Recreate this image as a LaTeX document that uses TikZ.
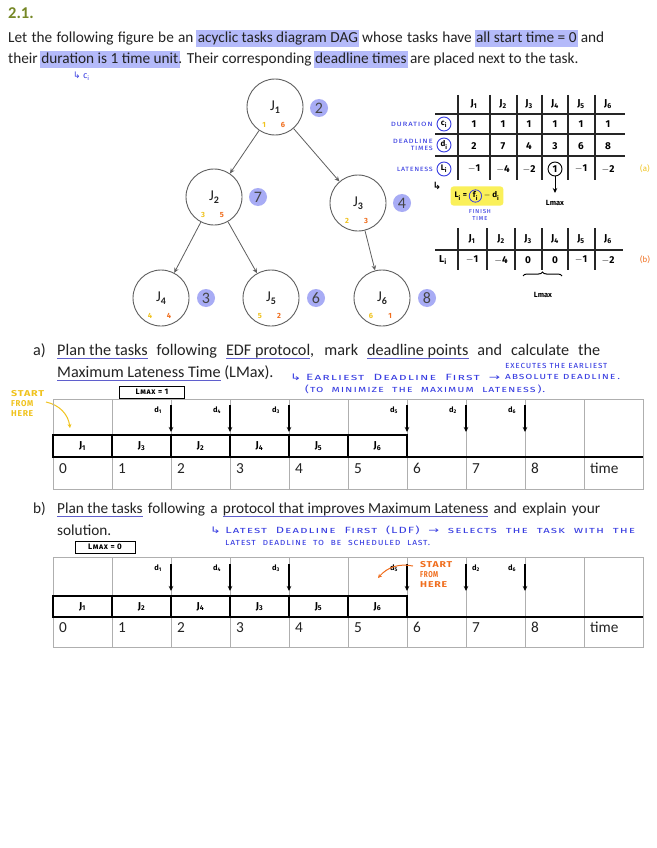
\documentclass[tikz,border=0pt]{standalone}
\usepackage{fontspec}
\setmainfont{Carlito}
\newfontfamily\hand{Fira Sans}
\newfontfamily\handsc[Letters=SmallCaps,LetterSpace=8]{Fira Sans}
\newfontfamily\dejavu{DejaVu Sans}
\usetikzlibrary{arrows.meta,decorations.pathreplacing}
\definecolor{titlec}{RGB}{118,136,38}
\definecolor{hlc}{RGB}{180,186,250}
\definecolor{ulc}{RGB}{95,95,205}
\definecolor{hb}{RGB}{55,60,225}
\definecolor{hy}{RGB}{240,195,30}
\definecolor{hyl}{RGB}{250,240,90}
\definecolor{ho}{RGB}{240,110,30}
\definecolor{gridc}{RGB}{175,175,175}
\definecolor{numbg}{RGB}{168,172,245}
\definecolor{txt}{RGB}{35,35,35}
\definecolor{nodec}{RGB}{95,95,95}
\newcommand\hlw[1]{\setbox0\hbox{#1}\rlap{\hspace{-1.5pt}\textcolor{hlc}{\rule[-4.5pt]{\dimexpr\wd0+3pt\relax}{17pt}}}\box0\relax}
\newcommand\ulw[1]{\setbox0\hbox{#1}\rlap{\textcolor{ulc}{\rule[-3.8pt]{\wd0}{0.9pt}}}\box0\relax}
\newcommand\Jn[1]{J\raisebox{-3.2pt}{\fontsize{10}{10}\selectfont\bfseries #1}}
\newcommand\hj[1]{J\textsubscript{#1}}
\newcommand\wfit[2]{\resizebox{#1}{\height}{#2}}
\begin{document}
\begin{tikzpicture}[x=1pt,y=-1pt,every node/.style={inner sep=0pt}]
\tikzset{
 body/.style={anchor=base west, font=\fontsize{15.3}{18}\selectfont, text=txt},
 bodya/.style={anchor=base west, font=\fontsize{16.2}{18}\selectfont, text=txt},
 hw/.style={anchor=base west, font=\handsc\fontsize{9}{9}\selectfont, text=hb},
 task/.style={circle, draw=nodec, line width=0.9pt, minimum size=56pt, font=\fontsize{15}{15}\selectfont, text=txt},
 tag/.style={circle, fill=numbg, minimum size=18pt, font=\fontsize{16}{16}\selectfont, text=txt!85},
 ord/.style={font=\hand\bfseries\fontsize{7.5}{7.5}\selectfont},
 edge/.style={-{Stealth[length=5pt,width=4.5pt]}, line width=0.8pt, draw=nodec},
 tl/.style={line width=1.1pt, draw=black!85},
 tv/.style={font=\hand\bfseries\fontsize{10}{10}\selectfont},
 gridl/.style={draw=gridc, line width=0.8pt},
 tbox/.style={draw=black, line width=1.8pt},
 dline/.style={-{Stealth[length=5pt,width=4.5pt]}, line width=1.2pt},
 dlab/.style={font=\hand\bfseries\fontsize{7.5}{7.5}\selectfont},
 num/.style={anchor=base west, font=\fontsize{15.3}{15}\selectfont, text=txt},
 hjs/.style={font=\hand\bfseries\fontsize{10}{10}\selectfont},
 lbox/.style={draw=black, line width=1pt, inner xsep=2pt, inner ysep=1.5pt, font=\handsc\bfseries\fontsize{8}{8}\selectfont},
 rlab/.style={font=\handsc\fontsize{7.5}{6.5}\selectfont, text=hb, anchor=east, align=right},
 start/.style={font=\handsc\bfseries\fontsize{8.5}{10}\selectfont, align=left, anchor=north west},
 lmx/.style={font=\hand\bfseries\fontsize{7.5}{8}\selectfont},
}
\fill[white] (0,0) rectangle (656,848);
\useasboundingbox (0,0) rectangle (656,848);

% ---- heading and intro
\node[anchor=base west, font=\bfseries\fontsize{16.5}{18}\selectfont, text=titlec] (title) at (8,19) {2.1.};
\node[body] (l1) at (8,43) {\makebox[596pt][s]{Let the following figure be an \hlw{acyclic tasks diagram DAG} whose tasks have \hlw{all start time = 0} and}};
\node[body] (l2) at (8,64) {their \hlw{duration is 1 time unit}. Their corresponding \hlw{deadline times} are placed next to the task.};
\node[hw, font=\hand\fontsize{9}{9}\selectfont] (ci) at (73,79) {{\dejavu ↳} c\textsubscript{i}};

% ---- DAG
\node[task] (J1) at (275,107) {\Jn{1}};
\node[task] (J2) at (214,197) {\Jn{2}};
\node[task] (J3) at (358,203) {\Jn{3}};
\node[task] (J4) at (161,298) {\Jn{4}};
\node[task] (J5) at (271,298) {\Jn{5}};
\node[task] (J6) at (382,298) {\Jn{6}};
\node[tag] (t1) at (319,108) {2};
\node[tag] (t2) at (258,197) {7};
\node[tag] (t3) at (402,203) {4};
\node[tag] (t4) at (206,298) {3};
\node[tag] (t5) at (316,298) {6};
\node[tag] (t6) at (427,298) {8};
\foreach \n/\a/\b in {1/1/6,2/3/5,3/2/3,4/4/4,5/5/2,6/6/1}{
  \node[ord, text=hy] (ya\n) at ([shift={(-11,18)}]J\n.center) {\a};
  \node[ord, text=ho] (ob\n) at ([shift={(8,18)}]J\n.center) {\b};
}
\draw[edge] (J1) -- (J2);
\draw[edge] (J1) -- (J3);
\draw[edge] (J2) -- (J4);
\draw[edge] (J2) -- (J5);
\draw[edge] (J3) -- (J6);

% ---- table of durations / deadlines / lateness
\foreach \y in {114,134,156}{ \draw[tl] (435,\y) -- (625,\y); }
\foreach \x in {458,490,517,542,568,595}{ \draw[tl] (\x,95) -- (\x,180); }
\foreach \i/\x in {1/474,2/503,3/529,4/555,5/581,6/608}{
  \node[hjs] (h\i) at (\x,104) {\hj{\i}};
  \node[tv] (c\i) at (\x,124) {1};
}
\foreach \i/\x/\v in {1/474/2,2/503/7,3/529/4,4/555/3,5/581/6,6/608/8}{
  \node[tv] (d\i) at (\x,146) {\v};
}
\foreach \i/\x/\v in {1/474/$-$1,2/503/$-$4,3/529/$-$2,5/581/$-$1,6/608/$-$2}{
  \node[tv] (L\i) at (\x,169) {\v};
}
\node[tv, circle, draw=black, line width=0.9pt, minimum size=14pt] (L4) at (555,169) {1};
\node[font=\hand\fontsize{8}{7}\selectfont, text=hy] (ta) at (645,169) {(a)};
\node[rlab] (rdur) at (433,124) {\wfit{42pt}{duration}};
\node[rlab] (rdl) at (433,145) {\wfit{40pt}{deadline}\\\wfit{22pt}{times}};
\node[rlab] (rlat) at (433,169) {\wfit{36pt}{lateness}};
\node[circle, draw=hb, line width=0.9pt, minimum size=14pt, font=\hand\bfseries\fontsize{8}{8}\selectfont] (cC) at (444,124) {c\textsubscript{i}};
\node[circle, draw=hb, line width=0.9pt, minimum size=14pt, font=\hand\bfseries\fontsize{8}{8}\selectfont] (cD) at (444,145) {d\textsubscript{i}};
\node[circle, draw=hb, line width=0.9pt, minimum size=14pt, font=\hand\bfseries\fontsize{8}{8}\selectfont] (cL) at (444,169) {L\textsubscript{i}};
\node[font=\dejavu\bfseries\fontsize{10}{10}\selectfont] (hook) at (437,186) {↳};
\node[fill=hyl, rounded corners=3pt, inner xsep=4pt, inner ysep=3pt, font=\hand\bfseries\fontsize{8}{8}\selectfont] (form) at (477,196) {L\textsubscript{i} = \tikz[baseline=(ff.base)]\node[circle,draw=hb,line width=0.8pt,inner sep=1pt](ff){f\textsubscript{i}};\ $-$ d\textsubscript{i}};
\node[font=\handsc\fontsize{7}{6.5}\selectfont, text=hb, align=center] (fin) at (480,215) {finish\\time};
\coordinate (lm1) at (555,193);
\draw[dline, line width=0.9pt] (L4) -- (lm1);
\node[lmx] (lmx1) at (555,203) {Lmax};

% ---- second lateness table
\draw[tl] (435,250) -- (623,250);
\foreach \x in {458,487,515,542,568,595}{ \draw[tl] (\x,228) -- (\x,270); }
\foreach \i/\x/\v in {1/472/$-$1,2/501/$-$4,3/528/0,4/555/0,5/581/$-$1,6/608/$-$2}{
  \node[hjs] (hh\i) at (\x,239) {\hj{\i}};
  \node[tv] (LL\i) at (\x,260) {\v};
}
\node[tv] (Lrow) at (443,260) {L\textsubscript{i}};
\node[font=\hand\fontsize{8}{7}\selectfont, text=ho] (tb) at (645,260) {(b)};
\coordinate (br1) at (523,276);
\coordinate (br2) at (562,276);
\draw[line width=1pt, decorate, decoration={brace, amplitude=4pt}] (br1) -- (br2);
\node[lmx] (lmx2) at (543,295) {Lmax};

% ---- part a
\node[bodya] (pa) at (33,355) {a)};
\node[bodya] (a1) at (57,355) {\makebox[543pt][s]{\ulw{Plan the tasks} following \ulw{EDF protocol}, mark \ulw{deadline points} and calculate the}};
\node[bodya] (a2) at (57,377) {\ulw{Maximum Lateness Time} (LMax).};
\node[hw] (ah1) at (290,380) {\wfit{210pt}{{\dejavu ↳} Earliest\ \ Deadline\ \ First\ \ {\dejavu →}}};
\node[hw] (ah2) at (505,368) {\wfit{102pt}{executes\ the\ earliest}};
\node[hw] (ah3) at (505,379) {\wfit{115pt}{absolute\ deadline\,.}};
\node[hw] (ah4) at (305,392) {\wfit{240pt}{(to\ \ minimize\ \ the\ \ maximum\ \ lateness\,).}};
\node[lbox, minimum width=65pt, minimum height=12pt] (lma) at (152,392) {Lmax\ = 1};
\node[start, text=hy] (sta) at (11,390) {\wfit{33pt}{START}\\\wfit{22pt}{FROM}\\\wfit{22pt}{HERE}};
\coordinate (sa1) at (46,402);
\coordinate (sa2) at (70,428);
\draw[hy, line width=1pt, -{Stealth[length=4pt,width=4pt]}] (sa1) to[bend left=35] (sa2);

% table a
\draw[gridl] (53,399) rectangle (643,489);
\foreach \k in {1,...,9}{ \draw[gridl] (53+59*\k,399) -- (53+59*\k,489); }
\foreach \k/\j in {0/1,1/3,2/2,3/4,4/5,5/6}{
  \node[tbox, minimum width=59pt, minimum height=22pt, hjs] (ta\k) at (82.5+59*\k,446) {\hj{\j}};
}
\draw[black, line width=1.8pt] (53,457) -- (643,457);
\foreach \k in {0,...,8}{ \node[num] (na\k) at (59+59*\k,473) {\k}; }
\node[num] (tima) at (590,473) {time};
\foreach \x/\d in {171/1,230/4,289/3,407/5,466/2,525/6}{
  \coordinate (dat\d) at (\x,405);
  \coordinate (dab\d) at (\x,432);
  \draw[dline] (dat\d) -- (dab\d);
  \node[dlab] (dal\d) at (\x-13,410) {d\textsubscript{\d}};
}

% ---- part b
\node[body] (pb) at (33,513) {b)};
\node[body] (b1) at (57,513) {\makebox[543pt][s]{\ulw{Plan the tasks} following a \ulw{protocol that improves Maximum Lateness} and explain your}};
\node[body] (b2) at (57,535) {solution.};
\node[hw] (bh1) at (210,533) {\wfit{425pt}{{\dejavu ↳} Latest\ \ Deadline\ \ First\ \ (LDF)\ \ {\dejavu →}\ \ selects\ \ the\ \ task\ \ with\ \ the}};
\node[hw] (bh2) at (225,545) {\wfit{205pt}{latest\ \ deadline\ \ to\ \ be\ \ scheduled\ \ last.}};
\node[lbox, minimum width=60pt, minimum height=12pt] (lmb) at (105,547) {Lmax\ = 0};

% table b
\draw[gridl] (53,557) rectangle (643,647);
\foreach \k in {1,...,9}{ \draw[gridl] (53+59*\k,557) -- (53+59*\k,647); }
\foreach \k/\j in {0/1,1/2,2/4,3/3,4/5,5/6}{
  \node[tbox, minimum width=59pt, minimum height=21pt, hjs] (tb\k) at (82.5+59*\k,606.5) {\hj{\j}};
}
\draw[black, line width=1.8pt] (53,617) -- (643,617);
\foreach \k in {0,...,8}{ \node[num] (nb\k) at (59+59*\k,632) {\k}; }
\node[num] (timb) at (590,632) {time};
\foreach \x/\d/\o in {171/1/-13,230/4/-13,289/3/-13,407/5/-13,466/2/10,525/6/-13}{
  \coordinate (dbt\d) at (\x,564);
  \coordinate (dbb\d) at (\x,591);
  \draw[dline] (dbt\d) -- (dbb\d);
  \node[dlab] (dbl\d) at (\x+\o,568) {d\textsubscript{\d}};
}
\node[start, text=ho] (stb) at (420,561) {\wfit{32pt}{START}\\\wfit{18pt}{FROM}\\\wfit{27pt}{HERE}};
\coordinate (sb1) at (413,566);
\coordinate (sb2) at (378,578);
\draw[ho, line width=1pt, -{Stealth[length=4pt,width=4pt]}] (sb1) to[bend right=30] (sb2);
\end{tikzpicture}
\end{document}
